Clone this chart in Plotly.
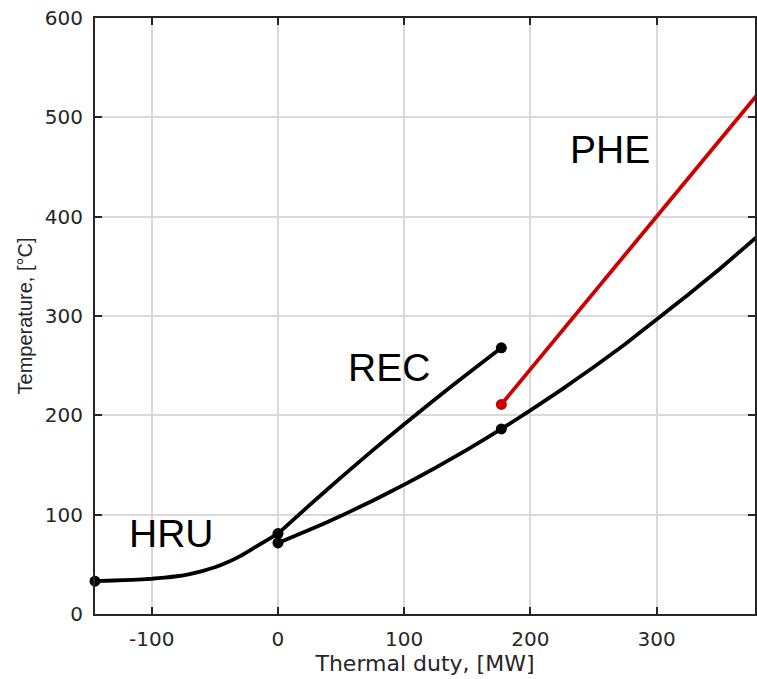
import plotly.graph_objects as go

# HRU curve (hot side composite), thermal duty [MW] vs temperature [°C]
hru_x = [-145, -130, -115, -100, -90, -80, -70, -60, -50, -40, -30, -20, -10, 0]
hru_y = [33, 33.7, 34.4, 35.5, 36.6, 38, 40.2, 43.2, 47, 52, 58.3, 65.8, 73.4, 81]

# REC hot side
rec_hot_x = [0, 25, 50, 75, 100, 125, 150, 177]
rec_hot_y = [81, 109.6, 137.5, 164.7, 191.1, 216.7, 241.7, 268]

# Cold side (REC + PHE)
cold_x = [0, 25, 50, 75, 100, 125, 150, 177, 200, 225, 250, 275, 300, 325, 350, 380]
cold_y = [71.5, 84.7, 98.8, 114, 130.2, 147.3, 165.5, 186.3, 204.9, 226.2, 248.4, 271.6, 296.5, 321.5, 347.3, 380.2]

# PHE hot side
phe_x = [177, 380]
phe_y = [211, 523]

# End points
dots_x = [-145, 0, 0, 177, 177]
dots_y = [33, 81, 71.5, 268, 186.3]
red_dot_x = [177]
red_dot_y = [211]

labels = ["HRU", "REC", "PHE"]
label_x = [-84.6, 88.2, 263]
label_y = [81.2, 248.2, 467.4]

x_ticks = [-100, 0, 100, 200, 300]
y_ticks = [0, 100, 200, 300, 400, 500, 600]

BLACK = "#000000"
RED = "#cc0000"
AX = "#262626"
LW = 3.8

fig = go.Figure()
for xs, ys, col in [(hru_x, hru_y, BLACK), (rec_hot_x, rec_hot_y, BLACK),
                    (cold_x, cold_y, BLACK), (phe_x, phe_y, RED)]:
    fig.add_trace(go.Scatter(x=xs, y=ys, mode="lines", line=dict(color=col, width=LW, shape="spline", smoothing=0.3),
                             showlegend=False, hoverinfo="skip"))
fig.add_trace(go.Scatter(x=dots_x, y=dots_y, mode="markers", marker=dict(color=BLACK, size=11),
                         cliponaxis=False, showlegend=False))
fig.add_trace(go.Scatter(x=red_dot_x, y=red_dot_y, mode="markers", marker=dict(color=RED, size=11),
                         cliponaxis=False, showlegend=False))

for t, lx, ly in zip(labels, label_x, label_y):
    fig.add_annotation(x=lx, y=ly, text=t, showarrow=False, xanchor="center", yanchor="middle",
                       font=dict(family="Liberation Sans, Arial", size=39, color=BLACK))

axis_common = dict(
    showline=True, linecolor=AX, linewidth=2, mirror="ticks",
    ticks="inside", ticklen=7, tickwidth=2, tickcolor=AX,
    showgrid=True, gridcolor="#d9d9d9", gridwidth=1.5,
    zeroline=False,
    tickfont=dict(family="DejaVu Sans", size=20, color=AX),
    ticklabelstandoff=6,
)

fig.update_xaxes(range=[-145, 378], tickvals=x_ticks, ticktext=[str(v) for v in x_ticks],
                 title=dict(text="Thermal duty, [MW]", standoff=6,
                            font=dict(family="DejaVu Sans", size=22, color=AX)),
                 **axis_common)
fig.update_yaxes(range=[0, 600], tickvals=y_ticks, ticktext=[str(v) for v in y_ticks],
                 title=dict(text="Temperature, [°C]", standoff=7,
                            font=dict(family="Liberation Sans, Arial", size=20, color=AX)),
                 **axis_common)

fig.update_layout(width=757, height=679, margin=dict(l=95, r=0, t=18, b=65),
                  plot_bgcolor="white", paper_bgcolor="white")

fig.write_html("out.html")
